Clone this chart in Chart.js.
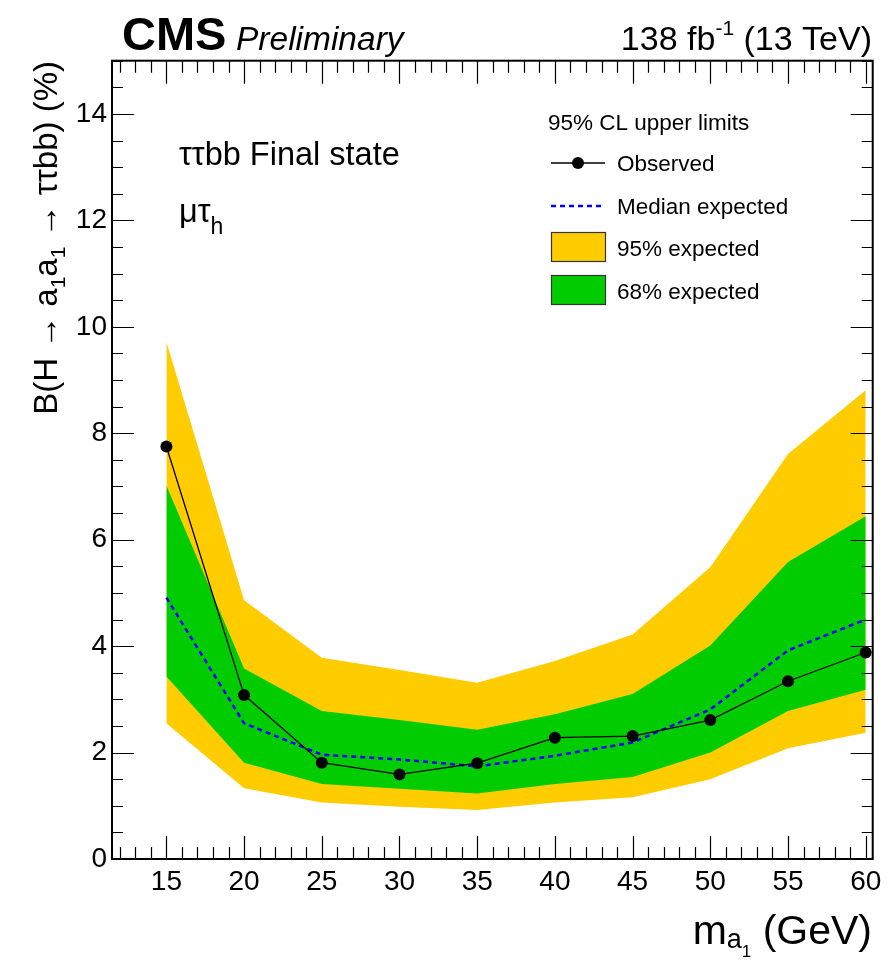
<!DOCTYPE html>
<html>
<head>
<meta charset="utf-8">
<script src="https://cdn.jsdelivr.net/npm/chart.js@4.4.1/dist/chart.umd.min.js"></script>
<style>
  html, body { margin: 0; padding: 0; background: #fff; }
  #wrap { width: 892px; height: 960px; }
</style>
</head>
<body>
<div id="wrap"><canvas id="limites" width="892" height="960"></canvas></div>
<script>
// Limites a 95% CL, canal mu-tau_h (ττbb)
const MASSAS = [15, 20, 25, 30, 35, 40, 45, 50, 55, 60];
const OBSERVADO = [7.75, 3.08, 1.81, 1.59, 1.80, 2.28, 2.31, 2.61, 3.34, 3.88];
const MEDIANA = [4.91, 2.55, 1.96, 1.87, 1.74, 1.94, 2.19, 2.81, 3.92, 4.50];
const BANDA68_SUP = [7.02, 3.58, 2.78, 2.61, 2.43, 2.72, 3.10, 4.01, 5.58, 6.44];
const BANDA68_INF = [3.43, 1.81, 1.41, 1.32, 1.23, 1.41, 1.54, 2.00, 2.78, 3.18];
const BANDA95_SUP = [9.72, 4.86, 3.78, 3.55, 3.31, 3.72, 4.22, 5.48, 7.61, 8.81];
const BANDA95_INF = [2.55, 1.33, 1.06, 0.98, 0.92, 1.06, 1.16, 1.50, 2.08, 2.37];

const TICKS_X = [15, 20, 25, 30, 35, 40, 45, 50, 55, 60];
const TICKS_Y = [0, 2, 4, 6, 8, 10, 12, 14];

const FONTE = '"Liberation Sans", Arial, Helvetica, sans-serif';
const AMARELO = '#ffcc00';
const VERDE = '#00cc00';

function pontos(valores) {
    return MASSAS.map((m, i) => ({ x: m, y: valores[i] }));
}

// texto com sub/sobrescritos: partes = [{t, size, dy, style}]
function textoRico(ctx, x, y, partes, align) {
    let total = 0;
    partes.forEach(p => {
        ctx.font = (p.style || '') + ' ' + p.size + 'px ' + FONTE;
        p.w = ctx.measureText(p.t).width;
        total += p.w;
    });
    let cx = align === 'right' ? x - total : x;
    ctx.textAlign = 'left';
    ctx.textBaseline = 'alphabetic';
    partes.forEach(p => {
        ctx.font = (p.style || '') + ' ' + p.size + 'px ' + FONTE;
        ctx.fillText(p.t, cx, y + (p.dy || 0));
        cx += p.w;
    });
}

const molduraPlugin = {
    id: 'moldura',
    afterDraw(chart) {
        const ctx = chart.ctx;
        const a = chart.chartArea;
        const sx = chart.scales.x;
        const sy = chart.scales.y;
        ctx.save();

        // marcas internas nos quatro lados
        ctx.strokeStyle = '#000';
        ctx.lineWidth = 1.2;
        ctx.beginPath();
        for (let v = 12; v <= 60; v++) {
            const px = Math.round(sx.getPixelForValue(v)) + 0.5;
            const len = v % 5 === 0 ? 23 : 12;
            ctx.moveTo(px, a.bottom); ctx.lineTo(px, a.bottom - len);
            ctx.moveTo(px, a.top); ctx.lineTo(px, a.top + len);
        }
        for (let v = 0; v <= 15; v += 0.5) {
            const py = Math.round(sy.getPixelForValue(v)) + 0.5;
            const len = v % 2 === 0 ? 22 : 11;
            ctx.moveTo(a.left, py); ctx.lineTo(a.left + len, py);
            ctx.moveTo(a.right, py); ctx.lineTo(a.right - len, py);
        }
        ctx.stroke();

        ctx.lineWidth = 2;
        ctx.strokeRect(a.left, a.top, a.right - a.left, a.bottom - a.top);

        ctx.fillStyle = '#000';
        // cabeçalho
        textoRico(ctx, 122, 50, [{ t: 'CMS', size: 47, style: 'bold' }]);
        textoRico(ctx, 236, 50, [{ t: 'Preliminary', size: 33.5, style: 'italic' }]);
        textoRico(ctx, 872, 50, [
            { t: '138 fb', size: 34 },
            { t: '-1', size: 21, dy: -15 },
            { t: ' (13 TeV)', size: 34 }
        ], 'right');

        // rótulos internos
        textoRico(ctx, 179, 165, [{ t: 'ττbb Final state', size: 32.5 }]);
        textoRico(ctx, 179, 222, [{ t: 'μτ', size: 32.5 }, { t: 'h', size: 23, dy: 12 }]);

        // título do eixo x
        textoRico(ctx, 872, 944, [
            { t: 'm', size: 41 },
            { t: 'a', size: 27, dy: 4 },
            { t: '1', size: 17, dy: 13 },
            { t: ' (GeV)', size: 41 }
        ], 'right');

        // título do eixo y (rotacionado)
        ctx.save();
        ctx.translate(57, 61);
        ctx.rotate(-Math.PI / 2);
        textoRico(ctx, 0, 0, [
            { t: 'B(H → a', size: 33 },
            { t: '1', size: 21, dy: 8 },
            { t: 'a', size: 33 },
            { t: '1', size: 21, dy: 8 },
            { t: ' → ττbb) (%)', size: 33 }
        ], 'right');
        ctx.restore();

        // legenda
        textoRico(ctx, 548, 130, [{ t: '95% CL upper limits', size: 22.5 }]);
        ctx.lineWidth = 1.3;
        ctx.beginPath(); ctx.moveTo(551, 163); ctx.lineTo(605, 163); ctx.stroke();
        ctx.beginPath(); ctx.arc(578, 163, 6, 0, Math.PI * 2); ctx.fill();
        textoRico(ctx, 617, 171, [{ t: 'Observed', size: 22.5 }]);

        ctx.strokeStyle = '#0000ff';
        ctx.lineWidth = 2.5;
        ctx.setLineDash([5, 4]);
        ctx.beginPath(); ctx.moveTo(551, 206); ctx.lineTo(605, 206); ctx.stroke();
        ctx.setLineDash([]);
        ctx.fillStyle = '#000';
        textoRico(ctx, 617, 214, [{ t: 'Median expected', size: 22.5 }]);

        ctx.strokeStyle = '#333';
        ctx.lineWidth = 1.2;
        ctx.fillStyle = AMARELO;
        ctx.fillRect(551, 232, 55, 30); ctx.strokeRect(551.5, 232.5, 54, 29);
        ctx.fillStyle = VERDE;
        ctx.fillRect(551, 275, 55, 30); ctx.strokeRect(551.5, 275.5, 54, 29);
        ctx.fillStyle = '#000';
        textoRico(ctx, 617, 256, [{ t: '95% expected', size: 22.5 }]);
        textoRico(ctx, 617, 299, [{ t: '68% expected', size: 22.5 }]);

        ctx.restore();
    }
};

const ctx = document.getElementById('limites');

new Chart(ctx, {
    type: 'line',
    data: {
        datasets: [
            {
                label: 'Observed',
                data: pontos(OBSERVADO),
                borderColor: '#000',
                backgroundColor: '#000',
                borderWidth: 1.3,
                pointRadius: 6,
                pointBackgroundColor: '#000',
                pointBorderWidth: 0,
                fill: false,
                order: 0
            },
            {
                label: 'Median expected',
                data: pontos(MEDIANA),
                borderColor: '#0000ff',
                borderWidth: 2.5,
                borderDash: [5, 4],
                pointRadius: 0,
                fill: false,
                order: 1
            },
            {
                label: '68% sup',
                data: pontos(BANDA68_SUP),
                borderWidth: 0,
                borderColor: VERDE,
                backgroundColor: VERDE,
                pointRadius: 0,
                fill: 3,
                order: 2
            },
            {
                label: '68% inf',
                data: pontos(BANDA68_INF),
                borderWidth: 0,
                borderColor: VERDE,
                pointRadius: 0,
                fill: false,
                order: 3
            },
            {
                label: '95% sup',
                data: pontos(BANDA95_SUP),
                borderWidth: 0,
                borderColor: AMARELO,
                backgroundColor: AMARELO,
                pointRadius: 0,
                fill: 5,
                order: 4
            },
            {
                label: '95% inf',
                data: pontos(BANDA95_INF),
                borderWidth: 0,
                borderColor: AMARELO,
                pointRadius: 0,
                fill: false,
                order: 5
            }
        ]
    },
    options: {
        responsive: false,
        animation: false,
        layout: { padding: { top: 60.7, right: 19.3, left: 0, bottom: 0 } },
        plugins: {
            legend: { display: false },
            tooltip: { enabled: false }
        },
        scales: {
            x: {
                type: 'linear',
                min: 11.5,
                max: 60.45,
                grid: { display: false, drawTicks: false },
                border: { display: false },
                ticks: {
                    color: '#000',
                    font: { family: FONTE, size: 28 },
                    padding: 6,
                    maxRotation: 0,
                    autoSkip: false
                },
                afterBuildTicks: (s) => { s.ticks = TICKS_X.map(v => ({ value: v })); },
                afterFit: (s) => { s.height = 960 - 859; }
            },
            y: {
                min: 0,
                max: 15,
                grid: { display: false, drawTicks: false },
                border: { display: false },
                ticks: {
                    color: '#000',
                    font: { family: FONTE, size: 28 },
                    padding: 5
                },
                afterBuildTicks: (s) => { s.ticks = TICKS_Y.map(v => ({ value: v })); },
                afterFit: (s) => { s.width = 112; }
            }
        }
    },
    plugins: [molduraPlugin]
});
</script>
</body>
</html>
